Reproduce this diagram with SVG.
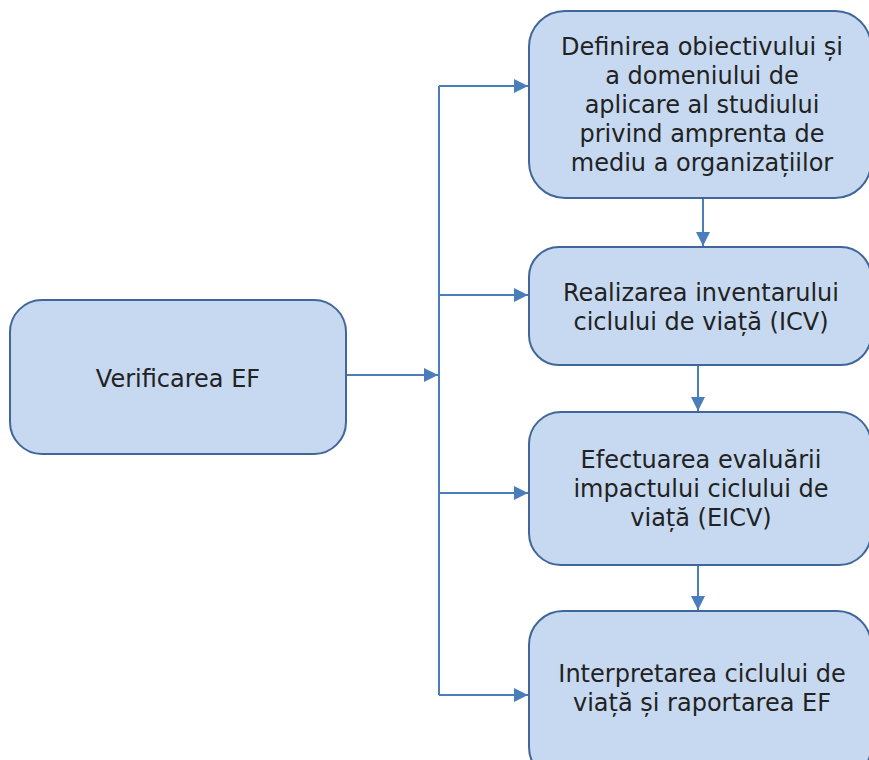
<svg xmlns="http://www.w3.org/2000/svg" width="869" height="760" viewBox="0 0 869 760">
  <defs>
    <marker id="arrow" viewBox="0 0 10 10" refX="10" refY="5" markerWidth="7" markerHeight="7" orient="auto" markerUnits="strokeWidth">
      <path d="M0,0 L10,5 L0,10 Z" fill="#4a7ebb"/>
    </marker>
    <style>
      .box { fill: #c6d9f0; stroke: #41669a; stroke-width: 2; }
      .lbl { font-family: "DejaVu Sans", Verdana, sans-serif; font-size: 24px; fill: #222222; text-anchor: middle; }
      .conn { fill: none; stroke: #4a7ebb; stroke-width: 2; }
      .arr { marker-end: url(#arrow); }
    </style>
  </defs>
  <rect width="869" height="760" fill="#ffffff"/>

  <g id="connectors">
    <line class="conn arr" x1="347" y1="375" x2="438" y2="375"/>
    <line class="conn" x1="439" y1="86" x2="439" y2="695"/>
    <line class="conn arr" x1="439" y1="86" x2="528" y2="86"/>
    <line class="conn arr" x1="439" y1="295" x2="528" y2="295"/>
    <line class="conn arr" x1="439" y1="493" x2="528" y2="493"/>
    <line class="conn arr" x1="439" y1="695" x2="528" y2="695"/>
    <line class="conn arr" x1="703" y1="199" x2="703" y2="246"/>
    <line class="conn arr" x1="698" y1="366" x2="698" y2="411"/>
    <line class="conn arr" x1="698" y1="566" x2="698" y2="610"/>
  </g>

  <g id="verificare">
    <rect class="box" x="10" y="300" width="336" height="154" rx="32"/>
    <text class="lbl" x="178" y="387">Verificarea EF</text>
  </g>

  <g id="definire">
    <rect class="box" x="529" y="11" width="342" height="187" rx="36"/>
    <text class="lbl" x="702" y="55">Definirea obiectivului și</text>
    <text class="lbl" x="702" y="84">a domeniului de</text>
    <text class="lbl" x="702" y="113">aplicare al studiului</text>
    <text class="lbl" x="702" y="142">privind amprenta de</text>
    <text class="lbl" x="702" y="171">mediu a organizațiilor</text>
  </g>

  <g id="icv">
    <rect class="box" x="529" y="247" width="342" height="118" rx="30"/>
    <text class="lbl" x="701" y="301">Realizarea inventarului</text>
    <text class="lbl" x="701" y="330">ciclului de viață (ICV)</text>
  </g>

  <g id="eicv">
    <rect class="box" x="529" y="412" width="342" height="153" rx="32"/>
    <text class="lbl" x="701" y="468">Efectuarea evaluării</text>
    <text class="lbl" x="701" y="497">impactului ciclului de</text>
    <text class="lbl" x="701" y="526">viață (EICV)</text>
  </g>

  <g id="interpretare">
    <rect class="box" x="529" y="611" width="342" height="170" rx="34"/>
    <text class="lbl" x="702" y="682">Interpretarea ciclului de</text>
    <text class="lbl" x="702" y="711">viață și raportarea EF</text>
  </g>
</svg>
